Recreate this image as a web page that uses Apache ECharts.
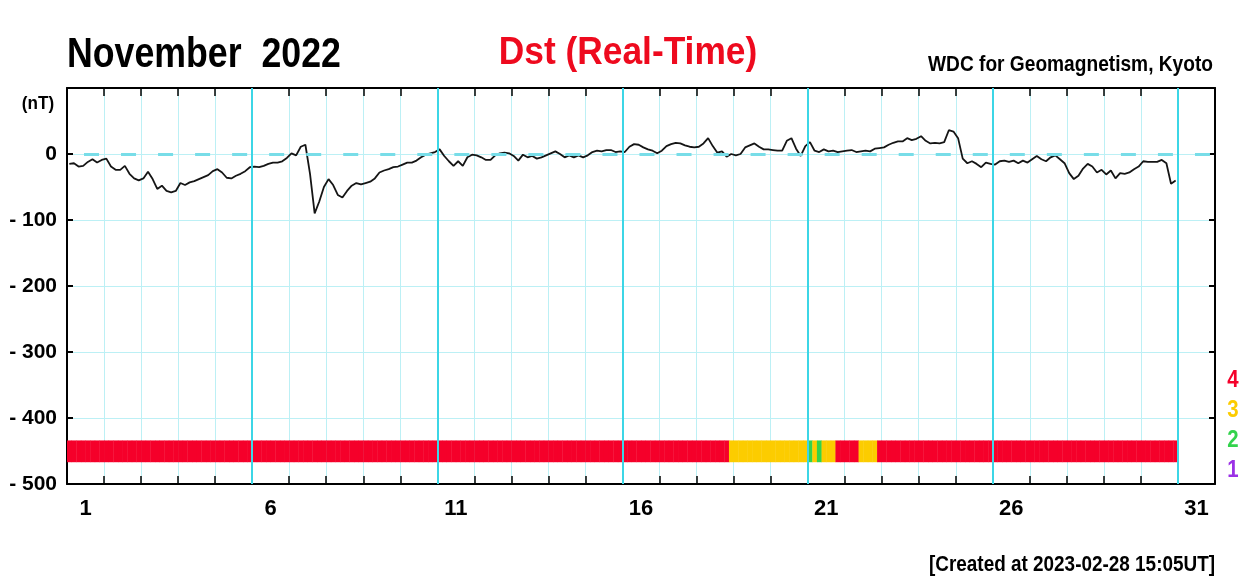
<!DOCTYPE html>
<html>
<head>
<meta charset="utf-8">
<title>Dst (Real-Time) November 2022</title>
<script src="https://cdn.jsdelivr.net/npm/echarts@6/dist/echarts.min.js"></script>
<style>
  html, body { margin: 0; padding: 0; background: #ffffff; }
  #chart { width: 1245px; height: 581px; }
</style>
</head>
<body>
<div id="chart"></div>
<script>
// Dst index, November 2022, one value per 3-hour interval (nT)
const stepHours = 3;
const dst3h = [
  -15, -14, -19, -18, -12,  -8, -13,  -9,   // 1
   -7, -19, -24, -24, -18, -30, -37, -40,   // 2
  -37, -27, -38, -53, -48, -56, -58, -56,   // 3
  -44, -47, -43, -41, -38, -35, -32, -26,   // 4
  -23, -28, -36, -37, -33, -30, -26, -20,   // 5
  -19, -20, -18, -15, -13, -13, -11,  -6,   // 6
    1,  -2,  11,  14, -30, -90, -72, -50,   // 7
  -38, -47, -62, -66, -56, -48, -44, -46,   // 8
  -44, -42, -37, -28, -25, -23, -20, -19,   // 9
  -16, -13, -13, -10,  -5,  -1,   1,   3,   // 10
    7,  -3, -11, -18, -11, -18,  -5,  -1,   // 11
   -2,  -5,  -9,  -9,  -2,   1,   2,   1,   // 12
   -3, -10,  -1,  -5,  -3,  -7,  -5,  -2,   // 13
    1,   4,   0,  -5,  -2,  -5,  -2,  -5,   // 14
   -2,   3,   5,   4,   6,   6,   3,   4,   // 15
    3,  11,  15,  14,  10,   7,   5,   1,   // 16
    5,  12,  15,  17,  16,  13,  11,  10,   // 17
   11,  16,  24,  12,   2,   4,  -4,   0,   // 18
   -2,   0,  10,  13,  16,  11,   7,   7,   // 19
    6,   5,   5,  20,  24,   8,  -3,  12,   // 20
   18,   5,   3,   7,   4,   5,   3,   4,   // 21
    5,   6,   3,   4,   5,   4,   8,   9,   // 22
   10,  14,  17,  19,  19,  24,  21,  23,   // 23
   27,  20,  16,  17,  16,  18,  36,  34,   // 24
   24,  -7, -14, -11, -15, -20, -13, -15,   // 25
  -16, -11, -10, -12, -10, -14, -10, -13,   // 26
   -8,  -3,  -8, -11,  -5,  -2,  -8, -14,   // 27
  -29, -38, -33, -22, -15, -19, -28, -24,   // 28
  -31, -25, -37, -29, -30, -28, -23, -19,   // 29
  -11, -12, -12, -12,  -9, -14, -45, -40    // 30
];

// Data quality level per 3-hour cell, as runs of [level, cell count]
const qualityRuns = [[4, 143], [3, 17], [2, 1], [3, 1], [2, 1], [3, 3], [4, 5], [3, 4], [4, 65]];
const qualityLevels = [4, 3, 2, 1];
const qualityColors = { 4: '#f5002a', 3: '#fccc00', 2: '#33d34c', 1: '#9b30e6' };

// Axis labelling
const daysShown = 31;
const dayLabels = [1, 6, 11, 16, 21, 26, 31];
const majorDays = [6, 11, 16, 21, 26, 31];
const yMin = -500, yMax = 100, yStep = 100;

// Layout and style constants
const NARROW = "'DejaVu Sans Condensed', 'Liberation Sans', sans-serif";
const SANS = "'Liberation Sans', Arial, sans-serif";
const barTop = -434, barBottom = -467;
const dayPx = (1245 - 67 - 30) / daysShown;

const hoursMax = daysShown * 24;
const dayBounds = Array.from({ length: daysShown + 1 }, (_, i) => i * 24);

const lineData = dst3h.map((v, i) => [i * stepHours + stepHours / 2, v]);

const qualityCells = [];
let cell = 0;
qualityRuns.forEach(([level, count]) => {
  for (let k = 0; k < count; k++, cell++) {
    qualityCells.push([cell * stepHours, (cell + 1) * stepHours, level]);
  }
});

// Condensed bold text: Liberation Sans Bold squeezed horizontally
function condensedText(text, x, y, size, squeeze, align, color) {
  return {
    type: 'text', x: x, y: y, scaleX: squeeze, scaleY: 1, originX: 0, originY: 0,
    style: { text: text, fill: color, font: 'bold ' + size + 'px ' + SANS,
             align: align, verticalAlign: 'middle' }
  };
}

const chart = echarts.init(document.getElementById('chart'), null, { renderer: 'canvas' });

const frameLine = { show: true, onZero: false, lineStyle: { color: '#000', width: 2 } };

chart.setOption({
  animation: false,
  backgroundColor: '#ffffff',
  grid: { left: 67, right: 30, top: 88, bottom: 97, containLabel: false },
  xAxis: [
    {
      type: 'value', position: 'bottom', min: 0, max: hoursMax, interval: 24,
      axisLine: frameLine,
      axisTick: { show: true, inside: true, length: 8, customValues: dayBounds,
                  lineStyle: { color: '#000', width: 1.5 } },
      splitLine: { show: true, lineStyle: { color: '#bcf0f5', width: 1 } },
      axisLabel: {
        show: true, margin: 14,
        customValues: dayLabels.map(d => (d - 1) * 24 + 12),
        formatter: v => String(Math.round((v - 12) / 24) + 1),
        color: '#000', fontSize: 22, fontWeight: 'bold', fontFamily: SANS
      }
    },
    {
      type: 'value', position: 'top', min: 0, max: hoursMax, interval: 24,
      axisLine: frameLine,
      axisTick: { show: true, inside: true, length: 8, customValues: dayBounds,
                  lineStyle: { color: '#000', width: 1.5 } },
      splitLine: { show: false },
      axisLabel: { show: false }
    }
  ],
  yAxis: [
    {
      type: 'value', position: 'left', min: yMin, max: yMax, interval: yStep,
      axisLine: frameLine,
      axisTick: { show: true, inside: true, length: 6, lineStyle: { color: '#000', width: 2 } },
      splitLine: { show: true, lineStyle: { color: '#bcf0f5', width: 1 } },
      axisLabel: {
        margin: 10, color: '#000', fontSize: 21, fontWeight: 'bold', fontFamily: SANS,
        formatter: v => (v >= yMax ? '' : v < 0 ? '- ' + (-v) : String(v))
      }
    },
    {
      type: 'value', position: 'right', min: yMin, max: yMax, interval: yStep,
      axisLine: frameLine,
      axisTick: { show: true, inside: true, length: 6, lineStyle: { color: '#000', width: 2 } },
      splitLine: { show: false },
      axisLabel: { show: false }
    }
  ],
  series: [
    {
      // 5-day guide lines and the dashed zero level
      type: 'line', xAxisIndex: 0, yAxisIndex: 0, data: [], z: 1, silent: true,
      markLine: {
        silent: true, symbol: 'none', label: { show: false }, animation: false,
        data: [
          ...majorDays.map(d => ({
            xAxis: (d - 1) * 24,
            lineStyle: { color: '#3cd6e6', width: 2, type: 'solid' }
          })),
          {
            yAxis: 0,
            lineStyle: { color: '#78dde8', width: 3, type: [15, dayPx - 15], dashOffset: dayPx - 17 }
          }
        ]
      }
    },
    {
      // Data quality strip
      type: 'custom', xAxisIndex: 0, yAxisIndex: 0, z: 2, silent: true,
      data: qualityCells,
      renderItem: (params, api) => {
        const p0 = api.coord([api.value(0), barTop]);
        const p1 = api.coord([api.value(1), barBottom]);
        return {
          type: 'rect',
          shape: { x: p0[0], y: p0[1], width: p1[0] - p0[0] + 0.4, height: p1[1] - p0[1] },
          style: { fill: qualityColors[api.value(2)] }
        };
      }
    },
    {
      name: 'Dst', type: 'line', xAxisIndex: 0, yAxisIndex: 0, z: 3,
      data: lineData, showSymbol: false, smooth: false,
      lineStyle: { color: '#151515', width: 1.8 }
    }
  ],
  graphic: [
    condensedText('November  2022', 67, 55, 42, 0.85, 'left', '#000'),
    condensedText('Dst (Real-Time)', 628, 54, 38, 0.93, 'center', '#ee0a1e'),
    condensedText('WDC for Geomagnetism, Kyoto', 1213, 65, 22, 0.87, 'right', '#000'),
    condensedText('(nT)', 38, 104, 19, 0.9, 'center', '#000'),
    condensedText('[Created at 2023-02-28 15:05UT]', 1215, 565, 22, 0.86, 'right', '#000'),
    ...qualityLevels.map((lvl, i) => condensedText(String(lvl), 1233, 380 + i * 30, 24, 0.85, 'center', qualityColors[lvl]))
  ]
});
</script>
</body>
</html>
